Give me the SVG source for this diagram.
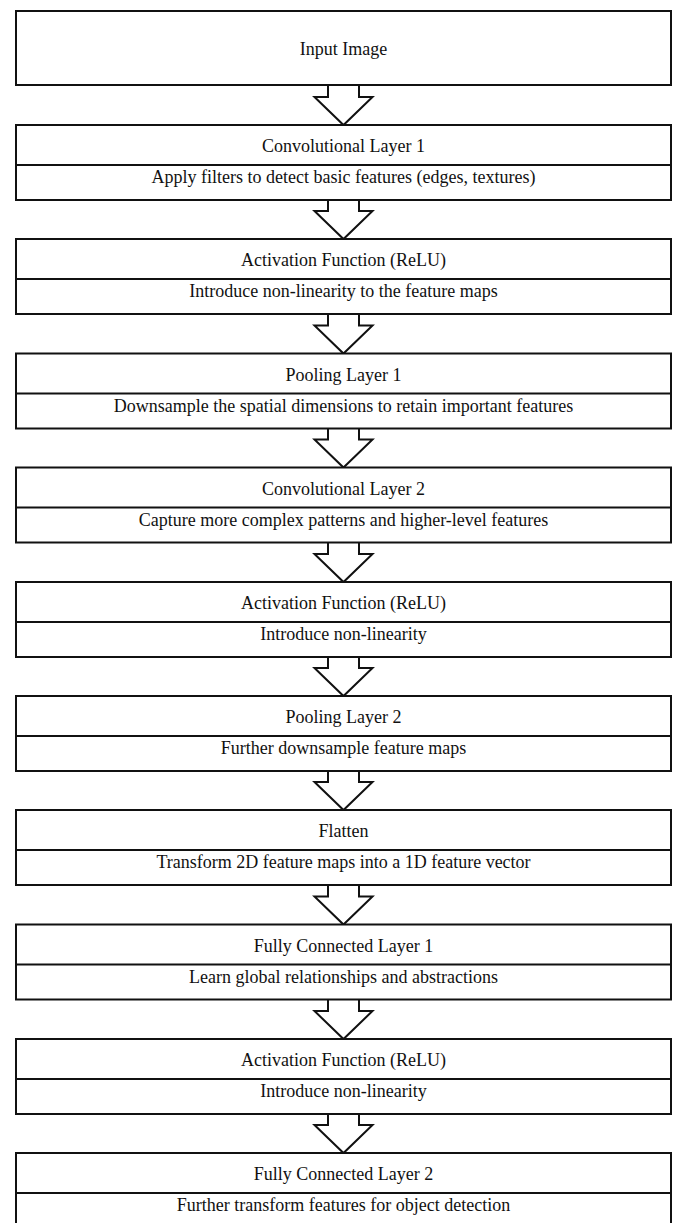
<svg xmlns="http://www.w3.org/2000/svg" width="678" height="1223" viewBox="0 0 678 1223">
<style>
.box{fill:#fff;stroke:#111;stroke-width:2}
.div{stroke:#111;stroke-width:2}
.arr{fill:#fff;stroke:#111;stroke-width:2;stroke-linejoin:miter}
text{font-family:"Liberation Serif","Times New Roman",serif;font-size:18px;fill:#111;text-anchor:middle}
</style>
<rect width="678" height="1223" fill="#fff"/>
<g id="connectors">
<polyline class="arr" points="328,85 328,97 314.5,97 343.5,125 372.5,97 359,97 359,85"/>
<polyline class="arr" points="328,200 328,211 314.5,211 343.5,239 372.5,211 359,211 359,200"/>
<polyline class="arr" points="328,314 328,325.5 314.5,325.5 343.5,353.5 372.5,325.5 359,325.5 359,314"/>
<polyline class="arr" points="328,428.5 328,439.5 314.5,439.5 343.5,467.5 372.5,439.5 359,439.5 359,428.5"/>
<polyline class="arr" points="328,542.5 328,554 314.5,554 343.5,582 372.5,554 359,554 359,542.5"/>
<polyline class="arr" points="328,657 328,668 314.5,668 343.5,696 372.5,668 359,668 359,657"/>
<polyline class="arr" points="328,771 328,782 314.5,782 343.5,810 372.5,782 359,782 359,771"/>
<polyline class="arr" points="328,885 328,896.5 314.5,896.5 343.5,924.5 372.5,896.5 359,896.5 359,885"/>
<polyline class="arr" points="328,999.5 328,1011 314.5,1011 343.5,1039 372.5,1011 359,1011 359,999.5"/>
<polyline class="arr" points="328,1114 328,1125 314.5,1125 343.5,1153 372.5,1125 359,1125 359,1114"/>
</g>
<g id="input">
<rect class="box" x="16" y="11" width="655" height="74"/>
<text x="343.5" y="55">Input Image</text>
</g>
<g id="conv1">
<rect class="box" x="16" y="125" width="655" height="75"/>
<line class="div" x1="16" y1="165" x2="671" y2="165"/>
<text x="343.5" y="152">Convolutional Layer 1</text>
<text x="343.5" y="183">Apply filters to detect basic features (edges, textures)</text>
</g>
<g id="relu1">
<rect class="box" x="16" y="239" width="655" height="75"/>
<line class="div" x1="16" y1="279" x2="671" y2="279"/>
<text x="343.5" y="266">Activation Function (ReLU)</text>
<text x="343.5" y="297">Introduce non-linearity to the feature maps</text>
</g>
<g id="pool1">
<rect class="box" x="16" y="353.5" width="655" height="75"/>
<line class="div" x1="16" y1="393.5" x2="671" y2="393.5"/>
<text x="343.5" y="380.5">Pooling Layer 1</text>
<text x="343.5" y="411.5">Downsample the spatial dimensions to retain important features</text>
</g>
<g id="conv2">
<rect class="box" x="16" y="467.5" width="655" height="75"/>
<line class="div" x1="16" y1="507.5" x2="671" y2="507.5"/>
<text x="343.5" y="494.5">Convolutional Layer 2</text>
<text x="343.5" y="525.5">Capture more complex patterns and higher-level features</text>
</g>
<g id="relu2">
<rect class="box" x="16" y="582" width="655" height="75"/>
<line class="div" x1="16" y1="622" x2="671" y2="622"/>
<text x="343.5" y="609">Activation Function (ReLU)</text>
<text x="343.5" y="640">Introduce non-linearity</text>
</g>
<g id="pool2">
<rect class="box" x="16" y="696" width="655" height="75"/>
<line class="div" x1="16" y1="736" x2="671" y2="736"/>
<text x="343.5" y="723">Pooling Layer 2</text>
<text x="343.5" y="754">Further downsample feature maps</text>
</g>
<g id="flatten">
<rect class="box" x="16" y="810" width="655" height="75"/>
<line class="div" x1="16" y1="850" x2="671" y2="850"/>
<text x="343.5" y="837">Flatten</text>
<text x="343.5" y="868">Transform 2D feature maps into a 1D feature vector</text>
</g>
<g id="fc1">
<rect class="box" x="16" y="924.5" width="655" height="75"/>
<line class="div" x1="16" y1="964.5" x2="671" y2="964.5"/>
<text x="343.5" y="951.5">Fully Connected Layer 1</text>
<text x="343.5" y="982.5">Learn global relationships and abstractions</text>
</g>
<g id="relu3">
<rect class="box" x="16" y="1039" width="655" height="75"/>
<line class="div" x1="16" y1="1079" x2="671" y2="1079"/>
<text x="343.5" y="1066">Activation Function (ReLU)</text>
<text x="343.5" y="1097">Introduce non-linearity</text>
</g>
<g id="fc2">
<rect class="box" x="16" y="1153" width="655" height="75"/>
<line class="div" x1="16" y1="1193" x2="671" y2="1193"/>
<text x="343.5" y="1180">Fully Connected Layer 2</text>
<text x="343.5" y="1211">Further transform features for object detection</text>
</g>
</svg>
